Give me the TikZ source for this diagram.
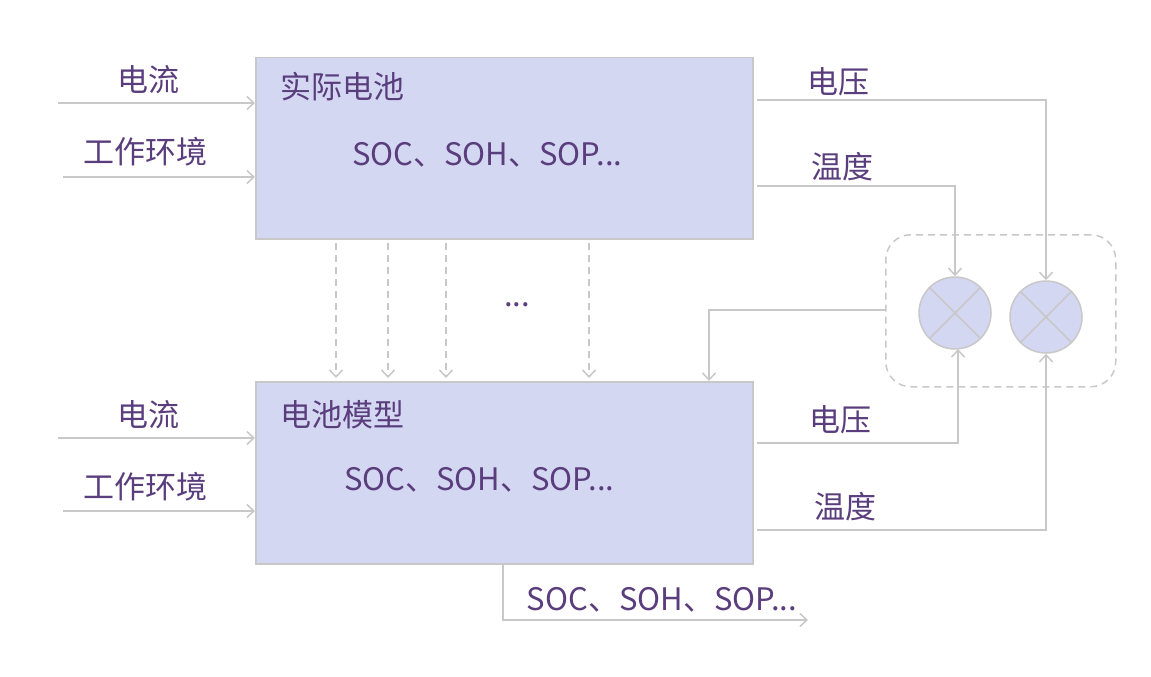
\documentclass[tikz,border=0pt]{standalone}
\usepackage{fontspec}
\setmainfont{Noto Sans CJK SC}
\usetikzlibrary{arrows.meta}
\definecolor{txt}{HTML}{5A3D7C}
\definecolor{ln}{HTML}{C8C8C8}
\definecolor{boxfill}{HTML}{D4D7F2}
\begin{document}
\begin{tikzpicture}[x=1pt,y=-1pt,
  every node/.style={text=txt,font=\fontsize{31}{34}\selectfont,inner sep=0pt},
  blk/.style={draw=ln,fill=boxfill,line width=1.5pt},
  conn/.style={draw=ln,line width=1.5pt,-{Straight Barb[length=7pt,width=13pt,line width=1.5pt]}},
  dconn/.style={conn,dash pattern=on 7pt off 5pt},
  plain/.style={draw=ln,line width=1.5pt},
  mult/.style={circle,draw=ln,fill=boxfill,line width=1.5pt,minimum size=72pt}]
\useasboundingbox (0,0) rectangle (1151,677);
% boxes
\node[blk,minimum width=497pt,minimum height=181pt,anchor=north west] (real) at (255,57) {};
\node[blk,minimum width=497pt,minimum height=182pt,anchor=north west] (model) at (255,381) {};
\node[anchor=west] (realt) at (280,87) {实际电池};
\node[anchor=west] (reals) at (352,155) {SOC、SOH、SOP...};
\node[anchor=west] (modelt) at (280,415) {电池模型};
\node[anchor=west] (models) at (344,480) {SOC、SOH、SOP...};
% left inputs
\coordinate (i1) at (58,103);
\coordinate (i2) at (63,177);
\coordinate (i3) at (58,438);
\coordinate (i4) at (63,511);
\draw[conn] (i1) -- (i1 -| real.west);
\draw[conn] (i2) -- (i2 -| real.west);
\draw[conn] (i3) -- (i3 -| model.west);
\draw[conn] (i4) -- (i4 -| model.west);
\node (l1) at (148,80) {电流};
\node (l2) at (145,152) {工作环境};
\node (l3) at (148,415) {电流};
\node (l4) at (145,487) {工作环境};
% comparators
\node[draw=ln,dash pattern=on 7pt off 5pt,line width=1.5pt,rounded corners=25pt,minimum width=230pt,minimum height=152pt,anchor=north west] (grp) at (885,234) {};
\node[mult] (m1) at (955,313) {};
\node[mult] (m2) at (1046,317) {};
\foreach \m in {m1,m2}{
  \draw[plain] (\m.north west) -- (\m.south east);
  \draw[plain] (\m.north east) -- (\m.south west);
}
% right outputs of real battery
\coordinate (o1) at (757,100);
\coordinate (o2) at (757,186);
\draw[conn] (o1) -- (o1 -| m2) -- (m2.north);
\draw[conn] (o2) -- (o2 -| m1) -- (m1.north);
\node (v1) at (838,82) {电压};
\node (t1) at (842,167) {温度};
% model outputs
\coordinate (o3) at (757,443);
\coordinate (o4) at (757,530);
\draw[conn] (o3) -- (o3 -| 958,0) -- (958,349);
\draw[conn] (o4) -- (o4 -| m2) -- (m2.south);
\node (v2) at (840,420) {电压};
\node (t2) at (845,507) {温度};
% feedback
\coordinate (fb) at (885,310);
\draw[conn] (fb) -- (709,310) -- (709,381);
% dashed state transfers
\foreach \x in {336,388,446,589}{
  \draw[dconn] (\x,243) -- (\x,378);
}
\node (dots) at (517,305) {...};
% final output
\coordinate (out0) at (503,563);
\coordinate (out1) at (808,620);
\draw[conn] (out0) -- (503,620) -- (out1);
\node (outs) at (662,600) {SOC、SOH、SOP...};
\end{tikzpicture}
\end{document}
